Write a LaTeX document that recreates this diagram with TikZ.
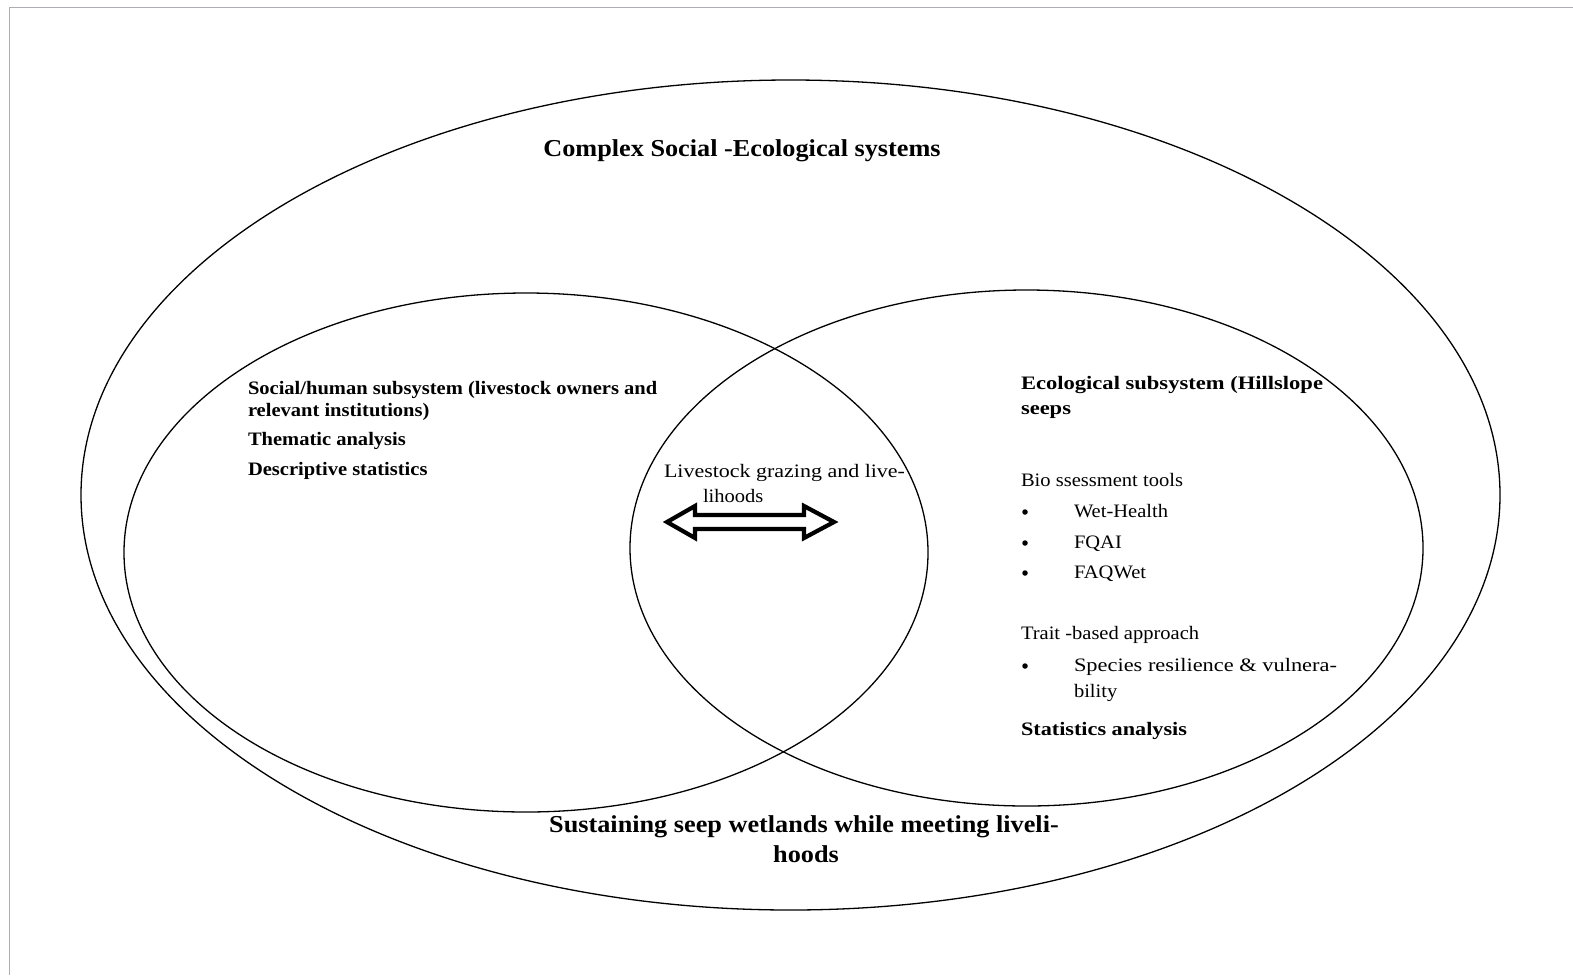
\documentclass[tikz,border=0pt]{standalone}
\usepackage{fontspec}
\setmainfont{Liberation Serif}[FakeStretch=1.08]
\definecolor{framegray}{RGB}{172,172,180}
\newcommand{\spreadto}[2]{\resizebox{#1}{\height}{#2}}
\tikzset{
  ring/.style={draw=black, line width=1.3pt},
  frameline/.style={draw=framegray, line width=1pt},
  plaintxt/.style={inner sep=0pt, outer sep=0pt, anchor=base west, font=\fontsize{19}{22}\selectfont},
  boldtxt/.style={plaintxt, font=\fontsize{19}{22}\selectfont\bfseries},
  headtxt/.style={inner sep=0pt, outer sep=0pt, anchor=base, font=\fontsize{24.3}{30}\selectfont\bfseries},
  bulletdot/.style={circle, fill=black, inner sep=0pt, minimum size=5.5pt},
  dblarrow/.style={draw=black, line width=4.2pt, line join=miter, miter limit=10}
}
\begin{document}
\begin{tikzpicture}[x=1pt, y=-1pt]
  \useasboundingbox (0,0) rectangle (1573,975);

  % page frame
  \draw[frameline] (9,975) -- (9,7) -- (1573,7);

  % the three systems
  \draw[ring] (790.5,495) ellipse [x radius=709.5pt, y radius=415pt];
  \draw[ring] (526,552.5) ellipse [x radius=402pt, y radius=259.5pt];
  \draw[ring] (1026.5,548) ellipse [x radius=396.5pt, y radius=258pt];

  % interaction arrow
  \draw[dblarrow] (667,522) -- (695,506) -- (695,515) -- (804,515) -- (804,506)
    -- (834,522) -- (804,538) -- (804,529) -- (695,529) -- (695,538) -- cycle;

  % headings
  \node[headtxt] (title) at (742,156) {Complex Social -Ecological systems};
  \node[headtxt] (goal1) at (804,832) {Sustaining seep wetlands while meeting liveli-};
  \node[headtxt] (goal2) at (806,862) {hoods};

  % social subsystem
  \node[boldtxt] (soc1) at (248,394) {Social/human subsystem (livestock owners and};
  \node[boldtxt] (soc2) at (248,416) {relevant institutions)};
  \node[boldtxt] (soc3) at (248,445) {Thematic analysis};
  \node[boldtxt] (soc4) at (248,475) {Descriptive statistics};

  % overlap
  \node[plaintxt] (mid1) at (664,477) {\spreadto{241pt}{Livestock grazing and live-}};
  \node[plaintxt] (mid2) at (703,502) {lihoods};

  % ecological subsystem
  \node[boldtxt] (eco1) at (1021,389) {\spreadto{302pt}{Ecological subsystem (Hillslope}};
  \node[boldtxt] (eco2) at (1021,414) {\spreadto{50pt}{seeps}};
  \node[plaintxt] (eco3) at (1021,486) {\spreadto{162pt}{Bio ssessment tools}};
  \node[bulletdot] (b1) at (1025,512) {};
  \node[plaintxt] (eco4) at (1074,517) {Wet-Health};
  \node[bulletdot] (b2) at (1025,543) {};
  \node[plaintxt] (eco5) at (1074,548) {FQAI};
  \node[bulletdot] (b3) at (1025,573) {};
  \node[plaintxt] (eco6) at (1074,578) {FAQWet};
  \node[plaintxt] (eco7) at (1021,639) {Trait -based approach};
  \node[bulletdot] (b4) at (1025,666) {};
  \node[plaintxt] (eco8) at (1074,671) {\spreadto{263pt}{Species resilience \& vulnera-}};
  \node[plaintxt] (eco9) at (1074,697) {bility};
  \node[boldtxt] (eco10) at (1021,735) {\spreadto{166pt}{Statistics analysis}};
\end{tikzpicture}
\end{document}
